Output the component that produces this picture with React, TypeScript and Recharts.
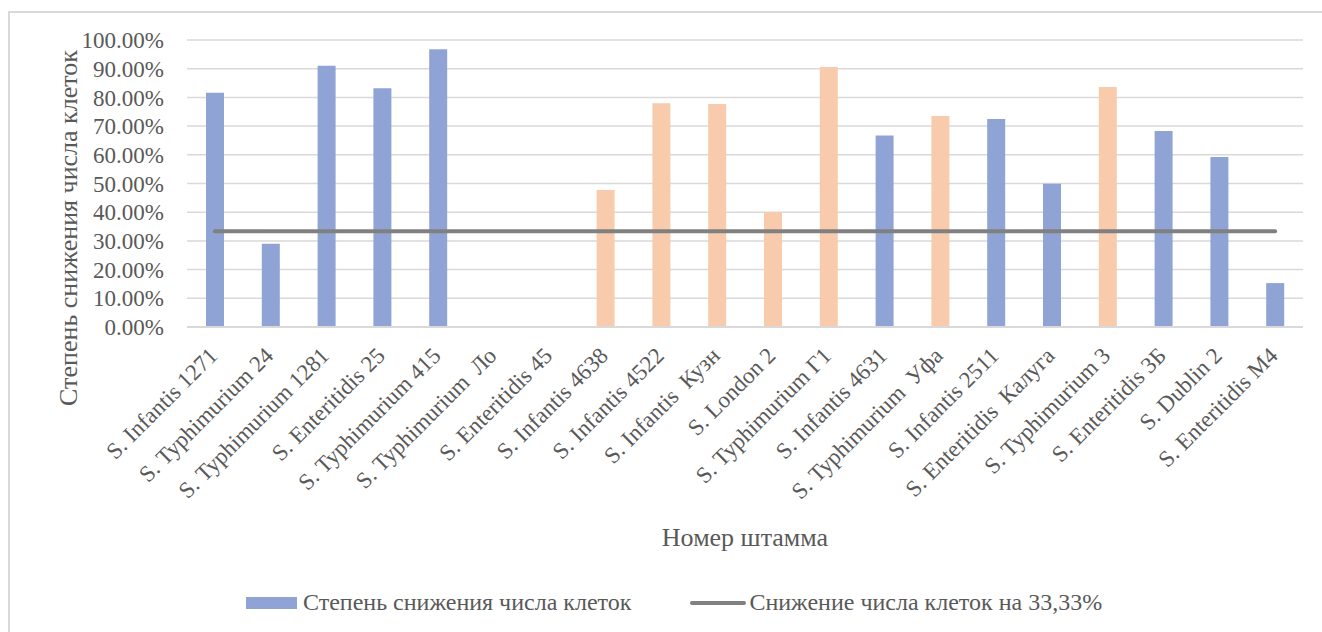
import { ComposedChart, Bar, Line, XAxis, YAxis, CartesianGrid, Legend, Cell, Label } from "recharts";

const strains = [
  "S. Infantis 1271", "S. Typhimurium 24", "S. Typhimurium 1281", "S. Enteritidis 25",
  "S. Typhimurium 415", "S. Typhimurium  Ло", "S. Enteritidis 45", "S. Infantis 4638",
  "S. Infantis 4522", "S. Infantis  Кузн", "S. London 2", "S. Typhimurium Г1",
  "S. Infantis 4631", "S. Typhimurium  Уфа", "S. Infantis 2511", "S. Enteritidis  Калуга",
  "S. Typhimurium 3", "S. Enteritidis 3Б", "S. Dublin 2", "S. Enteritidis М4",
];
const reduction = [
  0.816, 0.29, 0.91, 0.832, 0.968, 0, 0, 0.477, 0.78, 0.777,
  0.401, 0.906, 0.667, 0.735, 0.725, 0.499, 0.836, 0.683, 0.592, 0.153,
];
const tone = [
  "b", "b", "b", "b", "b", "b", "b", "p", "p", "p",
  "p", "p", "b", "p", "b", "b", "p", "b", "b", "b",
];
const threshold = 0.3333;
const yTicks = [0, 0.1, 0.2, 0.3, 0.4, 0.5, 0.6, 0.7, 0.8, 0.9, 1];

const BLUE = "#8FA3D4";
const PEACH = "#F7CBAC";
const FONT = "\"Liberation Serif\", \"Times New Roman\", Times, serif";
const TEXT = "#595959";

const data = strains.map((s, i) => ({ strain: s, value: reduction[i], line: threshold }));

function StrainTick({ x, y, payload }: any) {
  return (
    <text transform={`translate(${x + 4},${y}) rotate(-45)`} textAnchor="end"
      fontSize={23} fill={TEXT} style={{ whiteSpace: "pre", fontFamily: FONT }}>
      {payload.value}
    </text>
  );
}

function LegendBox() {
  return (
    <div style={{ display: "flex", alignItems: "center", marginLeft: 236, fontFamily: FONT, fontSize: 24, color: TEXT, whiteSpace: "nowrap" }}>
      <span style={{ width: 51, height: 12, background: BLUE, marginRight: 6 }} />
      <span>Степень снижения числа клеток</span>
      <span style={{ width: 56, height: 4, borderRadius: 2, background: "#808080", marginLeft: 59, marginRight: 3 }} />
      <span>Снижение числа клеток на 33,33%</span>
    </div>
  );
}

export default function App() {
  return (
    <div style={{ position: "fixed", left: 8, top: 11, width: 1312, height: 619, overflow: "hidden",
      borderTop: "2px solid #d9d9d9", borderLeft: "2px solid #d9d9d9", background: "#fff" }}>
      <ComposedChart width={1312} height={619} data={data} margin={{ top: 27, right: 19, left: 0, bottom: 0 }}>
        <CartesianGrid vertical={false} stroke="#d9d9d9" strokeWidth={1.5} />
        <XAxis dataKey="strain" interval={0} height={305} tickLine={false} tickSize={0} tickMargin={30}
          axisLine={{ stroke: "#d9d9d9", strokeWidth: 2 }} tick={<StrainTick />}>
          <Label content={({ viewBox }: any) => (
            <text x={viewBox.x + viewBox.width / 2} y={524} textAnchor="middle" dominantBaseline="central"
              fontSize={26} fill={TEXT} style={{ fontFamily: FONT }}>Номер штамма</text>
          )} />
        </XAxis>
        <YAxis width={177} domain={[0, 1]} ticks={yTicks} interval={0} axisLine={false} tickLine={false}
          tickSize={0} tickMargin={23}
          tick={{ fontSize: 23, fill: TEXT, style: { fontFamily: FONT } }}
          tickFormatter={(v: number) => `${(v * 100).toFixed(2)}%`}>
          <Label content={() => (
            <text x={58} y={215} transform="rotate(-90, 58, 215)" textAnchor="middle" dominantBaseline="central"
              fontSize={26} fill={TEXT} style={{ fontFamily: FONT }}>Степень снижения числа клеток</text>
          )} />
        </YAxis>
        <Legend layout="horizontal" verticalAlign="middle" align="center" content={<LegendBox />}
          wrapperStyle={{ top: 576, left: 0, width: 1312 }} />
        <Bar dataKey="value" barSize={18} isAnimationActive={false}>
          {data.map((d, i) => <Cell key={d.strain} fill={tone[i] === "p" ? PEACH : BLUE} />)}
        </Bar>
        <Line dataKey="line" stroke="#808080" strokeWidth={4} strokeLinecap="round" dot={false}
          activeDot={false} isAnimationActive={false} />
      </ComposedChart>
    </div>
  );
}
